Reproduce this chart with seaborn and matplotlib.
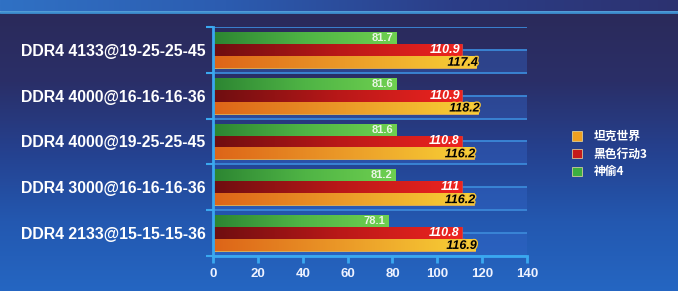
import seaborn as sns
import matplotlib.pyplot as plt
import matplotlib.patheffects as pe
from matplotlib.colors import LinearSegmentedColormap
from matplotlib.patches import Patch
import pandas as pd
import numpy as np

# Data
configs = ['DDR4 4133@19-25-25-45', 'DDR4 4000@16-16-16-36', 'DDR4 4000@19-25-25-45',
           'DDR4 3000@16-16-16-36', 'DDR4 2133@15-15-15-36']
games = ['神偷4', '黑色行动3', '坦克世界']
thief4 = [81.7, 81.6, 81.6, 81.2, 78.1]
blackops3 = [110.9, 110.9, 110.8, 111, 110.8]
tanks = [117.4, 118.2, 116.2, 116.2, 116.9]
value_labels = {
    '神偷4': ['81.7', '81.6', '81.6', '81.2', '78.1'],
    '黑色行动3': ['110.9', '110.9', '110.8', '111', '110.8'],
    '坦克世界': ['117.4', '118.2', '116.2', '116.2', '116.9'],
}
x_ticks = [0, 20, 40, 60, 80, 100, 120, 140]

df = pd.DataFrame({
    'config': configs * 3,
    'game': [games[0]] * 5 + [games[1]] * 5 + [games[2]] * 5,
    'fps': thief4 + blackops3 + tanks,
})

# gradients for each series (left -> right)
grad_colors = {
    '神偷4': ['#2c8532', '#4fb445', '#6fd050'],
    '黑色行动3': ['#6e0e10', '#b81818', '#ee2420'],
    '坦克世界': ['#dd6418', '#eb9a28', '#f8d236'],
}
swatch = {'坦克世界': '#f0a020', '黑色行动3': '#c41a1a', '神偷4': '#3cb040'}

sns.set_theme(style='white')
plt.rcParams['font.family'] = ['Liberation Sans', 'Noto Sans CJK SC', 'DejaVu Sans']

fig = plt.figure(figsize=(6.78, 2.91), dpi=100)

# background
bg = fig.add_axes([0, 0, 1, 1], zorder=-5)
bg.set_xlim(0, 678)
bg.set_ylim(291, 0)
bg.axis('off')
vcmap = LinearSegmentedColormap.from_list('bgv', ['#2b2a5a', '#2a2f68', '#25418f', '#2358b0', '#2566c2'])
bg.imshow(np.linspace(0, 1, 256).reshape(-1, 1), cmap=vcmap, extent=[0, 678, 291, 12],
          aspect='auto', zorder=0)
hcmap = LinearSegmentedColormap.from_list('bgh', ['#3071c4', '#2c5cb0', '#2b3e88', '#2d3270'])
bg.imshow(np.linspace(0, 1, 256).reshape(1, -1), cmap=hcmap, extent=[0, 678, 11, 0],
          aspect='auto', zorder=1)
bg.plot([0, 678], [11.5, 11.5], color='#3d8fd0', lw=2, zorder=2)

ax = fig.add_axes([0.3142, 0.1203, 0.4631, 0.7869])
ax.set_facecolor('none')

sns.barplot(data=df, y='config', x='fps', hue='game', hue_order=games, orient='h',
            width=0.78, ax=ax, legend=False, saturation=1)

# lighter "floor" panels and grid lines
for i in range(len(configs)):
    ax.axhspan(i, i + 0.5, color='#3466c8', alpha=0.4, lw=0, zorder=0)
for yv in np.arange(-0.5, len(configs), 0.5):
    ax.axhline(yv, color='#3b88d8', lw=1.3, zorder=0.5)

# gradient fills clipped to the bars
for game, cont in zip(games, ax.containers):
    cmap = LinearSegmentedColormap.from_list(game, grad_colors[game])
    shade = np.linspace(0, 1, 256).reshape(1, -1)
    for bar, lab in zip(cont, value_labels[game]):
        x0, y0 = bar.get_x(), bar.get_y()
        w, h = bar.get_width(), bar.get_height()
        bar.set_edgecolor('#f2b050' if game == '坦克世界' else '#d04040' if game == '黑色行动3' else '#7ad060')
        bar.set_linewidth(0.6)
        im = ax.imshow(shade, cmap=cmap, extent=[x0, x0 + w, y0 + h, y0], aspect='auto', zorder=2)
        im.set_clip_path(bar)
        yc = y0 + h / 2
        if game == '神偷4':
            ax.text(x0 + w - 1.2, yc, lab, ha='right', va='center', color='#eaf6e4',
                    fontsize=8, fontweight='bold', zorder=4)
        elif game == '黑色行动3':
            ax.text(x0 + w - 0.8, yc, lab, ha='right', va='center', color='white',
                    fontsize=9, fontweight='bold', fontstyle='italic', zorder=4)
        else:
            ax.text(x0 + w + 0.8, yc + 0.02, lab, ha='right', va='center', color='black',
                    fontsize=9, fontweight='bold', fontstyle='italic', zorder=4,
                    path_effects=[pe.withStroke(linewidth=2, foreground='#f2c23a')])

ax.set_xlim(0, 140)
ax.set_ylim(len(configs) - 0.5, -0.5)
ax.set_xticks(x_ticks)
ax.set_xticklabels([str(t) for t in x_ticks])
ax.set_yticks(range(len(configs)))
ax.set_yticklabels(configs)
ax.set_yticks(np.arange(-0.5, len(configs), 1.0), minor=True)
ax.set_xlabel('')
ax.set_ylabel('')

for side in ['top', 'right']:
    ax.spines[side].set_visible(False)
for side in ['left', 'bottom']:
    ax.spines[side].set_color('#3aa8f0')
    ax.spines[side].set_linewidth(2)
    ax.spines[side].set_zorder(5)

ax.tick_params(axis='x', bottom=True, direction='out', length=5, width=2, color='#3aa8f0',
               labelcolor='#eef2ff', labelsize=9.5, pad=4)
ax.tick_params(axis='y', which='major', left=False, length=0, labelcolor='white',
               labelsize=11.4, pad=5.5)
ax.tick_params(axis='y', which='minor', left=True, direction='out', length=5, width=1.5,
               color='#3aa8f0')
for t in ax.get_xticklabels():
    t.set_fontweight('bold')
for t in ax.get_yticklabels():
    t.set_fontweight('bold')

# legend (order as in the picture)
handles = [Patch(facecolor=swatch[g], edgecolor='#f0e0a0', linewidth=0.5, label=g)
           for g in ['坦克世界', '黑色行动3', '神偷4']]
leg = fig.legend(handles=handles, loc='center left', bbox_to_anchor=(0.828, 0.47),
                 frameon=False, handlelength=0.85, handleheight=0.85, handletextpad=1.0,
                 labelspacing=0.4, prop={'family': ['Noto Sans CJK SC', 'DejaVu Sans'],
                                         'size': 8.5, 'weight': 'bold'})
for t in leg.get_texts():
    t.set_color('white')

fig.savefig('out.png', dpi=100)
